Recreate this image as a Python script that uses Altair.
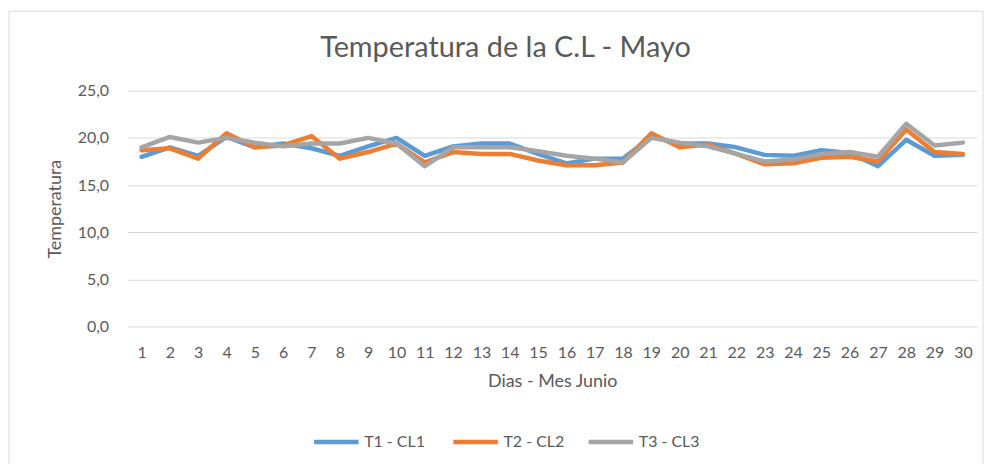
import altair as alt
import pandas as pd

days = list(range(1, 31))
t1 = [18.0, 19.0, 18.1, 20.1, 19.0, 19.4, 18.9, 18.1, 19.1, 20.0,
      18.1, 19.1, 19.4, 19.4, 18.3, 17.3, 17.8, 17.8, 20.1, 19.4,
      19.4, 19.0, 18.2, 18.1, 18.7, 18.4, 17.0, 19.8, 18.1, 18.2]
t2 = [18.7, 18.9, 17.8, 20.5, 19.0, 19.2, 20.2, 17.8, 18.5, 19.4,
      17.4, 18.5, 18.3, 18.3, 17.6, 17.1, 17.1, 17.4, 20.5, 19.0,
      19.3, 18.3, 17.2, 17.3, 17.9, 18.0, 17.5, 20.9, 18.5, 18.3]
t3 = [19.0, 20.1, 19.5, 20.0, 19.5, 19.1, 19.4, 19.4, 20.0, 19.4,
      17.0, 19.0, 19.0, 19.0, 18.6, 18.1, 17.8, 17.4, 20.0, 19.5,
      19.1, 18.3, 17.5, 17.7, 18.3, 18.5, 18.0, 21.5, 19.2, 19.5]
series_names = ["T1  - CL1", "T2 - CL2", "T3 - CL3"]
colors = ["#5B9BD5", "#ED7D31", "#A5A5A5"]

rows = []
for name, vals in zip(series_names, [t1, t2, t3]):
    for d, v in zip(days, vals):
        rows.append({"Dia": d, "Temp": v, "Serie": name})
df = pd.DataFrame(rows)

FONT = "Lato"
GREY = "#595959"

frame = alt.Chart(pd.DataFrame({"a": [0]})).mark_rect(
    fill="transparent", fillOpacity=0, stroke="#D9D9D9", strokeWidth=1, clip=False
).encode(
    x=alt.value(-119), x2=alt.value(860),
    y=alt.value(-80), y2=alt.value(390)
)

lines = alt.Chart(df).mark_line(strokeWidth=4.5, strokeCap="round", strokeJoin="round").encode(
    x=alt.X("Dia:O", title="Dias - Mes Junio",
            scale=alt.Scale(type="point", padding=0.5),
            axis=alt.Axis(labelAngle=0, labelFontSize=16, labelColor=GREY,
                          labelPadding=18, ticks=False, domain=False,
                          titleFontSize=18, titleColor=GREY, titleFontWeight="normal",
                          titlePadding=12, grid=False)),
    y=alt.Y("Temp:Q", title="Temperatura",
            scale=alt.Scale(domain=[0, 25], nice=False, zero=True),
            axis=alt.Axis(values=[0, 5, 10, 15, 20, 25],
                          labelExpr="replace(format(datum.value, '.1f'), '.', ',')",
                          labelFontSize=16, labelColor=GREY, labelPadding=19,
                          ticks=False, domain=False, grid=True, gridColor="#D9D9D9",
                          gridWidth=1, titleFontSize=18, titleColor=GREY,
                          titleFontWeight="normal", titlePadding=13)),
    color=alt.Color("Serie:N", title=None,
                    scale=alt.Scale(domain=series_names, range=colors),
                    legend=alt.Legend(orient="none", legendX=185, legendY=328,
                                      direction="horizontal", symbolType="stroke",
                                      symbolSize=2000, symbolStrokeWidth=4.5,
                                      labelFontSize=16, labelColor=GREY,
                                      columnPadding=14, labelOffset=3))
)

chart = alt.layer(frame, lines).properties(
    width=854, height=237,
    title=alt.TitleParams("Temperatura de la C.L - Mayo", fontSize=29,
                          font=FONT, color=GREY, fontWeight="normal",
                          frame="group", offset=-53, dx=-47),
    autosize=alt.AutoSizeParams(type="none"),
    padding={"left": 120, "top": 82, "right": 8, "bottom": 137}
).configure(font=FONT).configure_view(stroke=None)

chart.save("out.html", embed_options={"renderer": "svg", "actions": False})
